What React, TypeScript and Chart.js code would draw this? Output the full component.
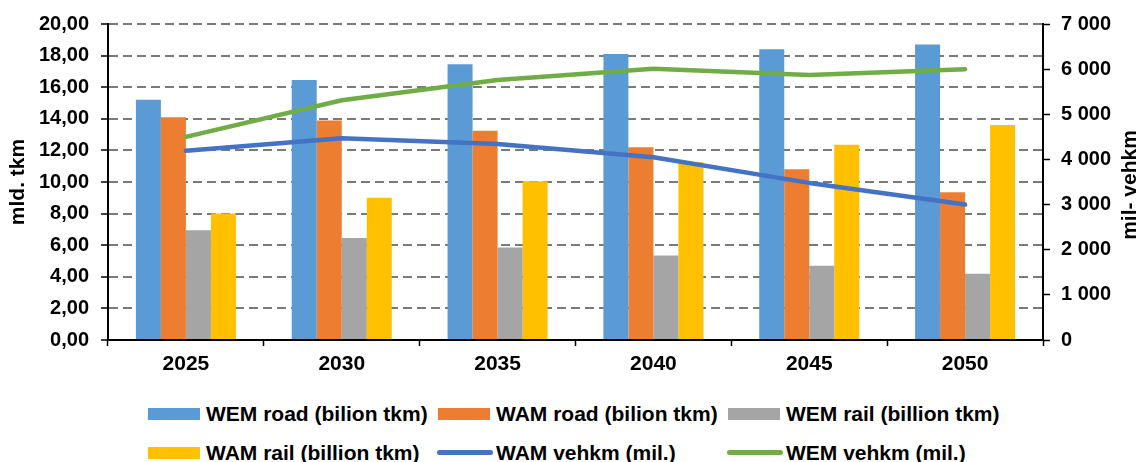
import React, { useEffect, useRef } from "react";
import { Chart, registerables } from "chart.js";

Chart.register(...registerables);

const categories = ["2025", "2030", "2035", "2040", "2045", "2050"];
const wemRoad = [15.2, 16.45, 17.45, 18.1, 18.4, 18.7];
const wamRoad = [14.1, 13.9, 13.25, 12.2, 10.8, 9.35];
const wemRail = [6.95, 6.45, 5.85, 5.35, 4.7, 4.2];
const wamRail = [8.0, 9.0, 10.05, 11.25, 12.35, 13.6];
const wamVehkm = [4190, 4470, 4340, 4050, 3480, 3000];
const wemVehkm = [4500, 5310, 5760, 6010, 5870, 6000];

const leftTitle = "mld. tkm";
const rightTitle = "mil- vehkm";

const FONT = "'Liberation Sans', Arial, sans-serif";

type Series = { label: string; kind: "bar" | "line"; color: string; data: number[] };

const series: Series[] = [
  { label: "WEM road (bilion tkm)", kind: "bar", color: "#5B9BD5", data: wemRoad },
  { label: "WAM road (bilion tkm)", kind: "bar", color: "#ED7D31", data: wamRoad },
  { label: "WEM rail (billion tkm)", kind: "bar", color: "#A5A5A5", data: wemRail },
  { label: "WAM rail (billion tkm)", kind: "bar", color: "#FFC000", data: wamRail },
  { label: "WAM vehkm (mil.)", kind: "line", color: "#4472C4", data: wamVehkm },
  { label: "WEM vehkm (mil.)", kind: "line", color: "#70AD47", data: wemVehkm },
];

const rightTitlePlugin = {
  id: "rightTitle",
  afterDraw(chart: any) {
    const s = chart.scales.y1;
    const area = chart.chartArea;
    const ctx = chart.ctx;
    ctx.save();
    ctx.font = `bold 21px ${FONT}`;
    ctx.fillStyle = "#000";
    ctx.textAlign = "center";
    ctx.textBaseline = "middle";
    ctx.translate(s.right - 16, (area.top + area.bottom) / 2 + 3);
    ctx.rotate(-Math.PI / 2);
    ctx.fillText(rightTitle, 0, 0);
    ctx.restore();
  },
};

export default function App() {
  const ref = useRef<HTMLCanvasElement | null>(null);

  useEffect(() => {
    if (!ref.current) return;
    Chart.defaults.font.family = FONT;
    Chart.defaults.color = "#000";
    const tickFont = { size: 20, weight: "bold" as const, family: FONT };
    const chart = new Chart(ref.current, {
      type: "bar",
      data: {
        labels: categories,
        datasets: series.map((s) =>
          s.kind === "bar"
            ? {
                type: "bar" as const,
                label: s.label,
                data: s.data,
                backgroundColor: s.color,
                borderWidth: 0,
                yAxisID: "y",
                order: 2,
                barPercentage: 1,
                categoryPercentage: 0.642,
              }
            : {
                type: "line" as const,
                label: s.label,
                data: s.data,
                borderColor: s.color,
                backgroundColor: s.color,
                borderWidth: 4.5,
                pointRadius: 0,
                borderCapStyle: "round" as const,
                borderJoinStyle: "round" as const,
                tension: 0,
                yAxisID: "y1",
                order: 1,
              }
        ) as any,
      },
      options: {
        animation: false,
        responsive: false,
        layout: { padding: { top: 24, left: 0, right: 0, bottom: 0 } },
        plugins: { legend: { display: false }, tooltip: { enabled: false } },
        scales: {
          x: {
            offset: true,
            grid: {
              offset: true,
              drawOnChartArea: false,
              drawTicks: true,
              tickLength: 6,
              tickColor: "#000",
              tickWidth: 1.5,
            },
            border: { color: "#000", width: 2 },
            ticks: { font: { ...tickFont, size: 21 }, padding: 6, color: "#000" },
            afterFit: (s: any) => {
              s.height = 44;
            },
          },
          y: {
            position: "left",
            min: 0,
            max: 20,
            ticks: {
              stepSize: 2,
              font: tickFont,
              padding: 12,
              color: "#000",
              callback: (v: any) => Number(v).toFixed(2).replace(".", ","),
            },
            grid: {
              color: "#7a7a7a",
              lineWidth: 2,
              tickColor: "#000",
              tickLength: 7,
              tickWidth: 1.5,
              tickBorderDash: [],
            },
            border: { color: "#000", width: 2, dash: [9, 5] },
            title: {
              display: true,
              text: leftTitle,
              font: { size: 21, weight: "bold", family: FONT },
              color: "#000",
              padding: { top: 6, bottom: 0 },
            },
            afterFit: (s: any) => {
              s.width = 108;
            },
          },
          y1: {
            position: "right",
            min: 0,
            max: 7000,
            ticks: {
              stepSize: 1000,
              font: tickFont,
              padding: 11,
              color: "#000",
              callback: (v: any) => String(v).replace(/\B(?=(\d{3})+(?!\d))/g, " "),
            },
            grid: {
              drawOnChartArea: false,
              tickColor: "#000",
              tickLength: 7,
              tickWidth: 1.5,
            },
            border: { color: "#000", width: 2 },
            afterFit: (s: any) => {
              s.width = 103;
            },
          },
        },
      } as any,
      plugins: [rightTitlePlugin],
    });
    return () => chart.destroy();
  }, []);

  return (
    <div
      style={{
        position: "absolute",
        left: 0,
        top: 0,
        width: 1146,
        height: 462,
        background: "#fff",
        fontFamily: FONT,
        overflow: "hidden",
      }}
    >
      <canvas ref={ref} width={1146} height={384} style={{ display: "block", width: 1146, height: 384 }} />
      <div
        style={{
          display: "grid",
          gridTemplateColumns: "290px 290px 290px",
          gridAutoRows: "39px",
          paddingLeft: 148,
          paddingTop: 10,
          alignItems: "center",
        }}
      >
        {series.map((s) => (
          <div key={s.label} style={{ display: "flex", alignItems: "center", whiteSpace: "nowrap" }}>
            {s.kind === "bar" ? (
              <span style={{ display: "inline-block", width: 52, height: 12, background: s.color, marginRight: 6 }} />
            ) : (
              <span
                style={{
                  display: "inline-block",
                  width: 56,
                  height: 5,
                  borderRadius: 3,
                  background: s.color,
                  marginLeft: -1,
                  marginRight: 3,
                }}
              />
            )}
            <span style={{ fontSize: 21, fontWeight: "bold", lineHeight: "21px", color: "#000" }}>{s.label}</span>
          </div>
        ))}
      </div>
    </div>
  );
}
